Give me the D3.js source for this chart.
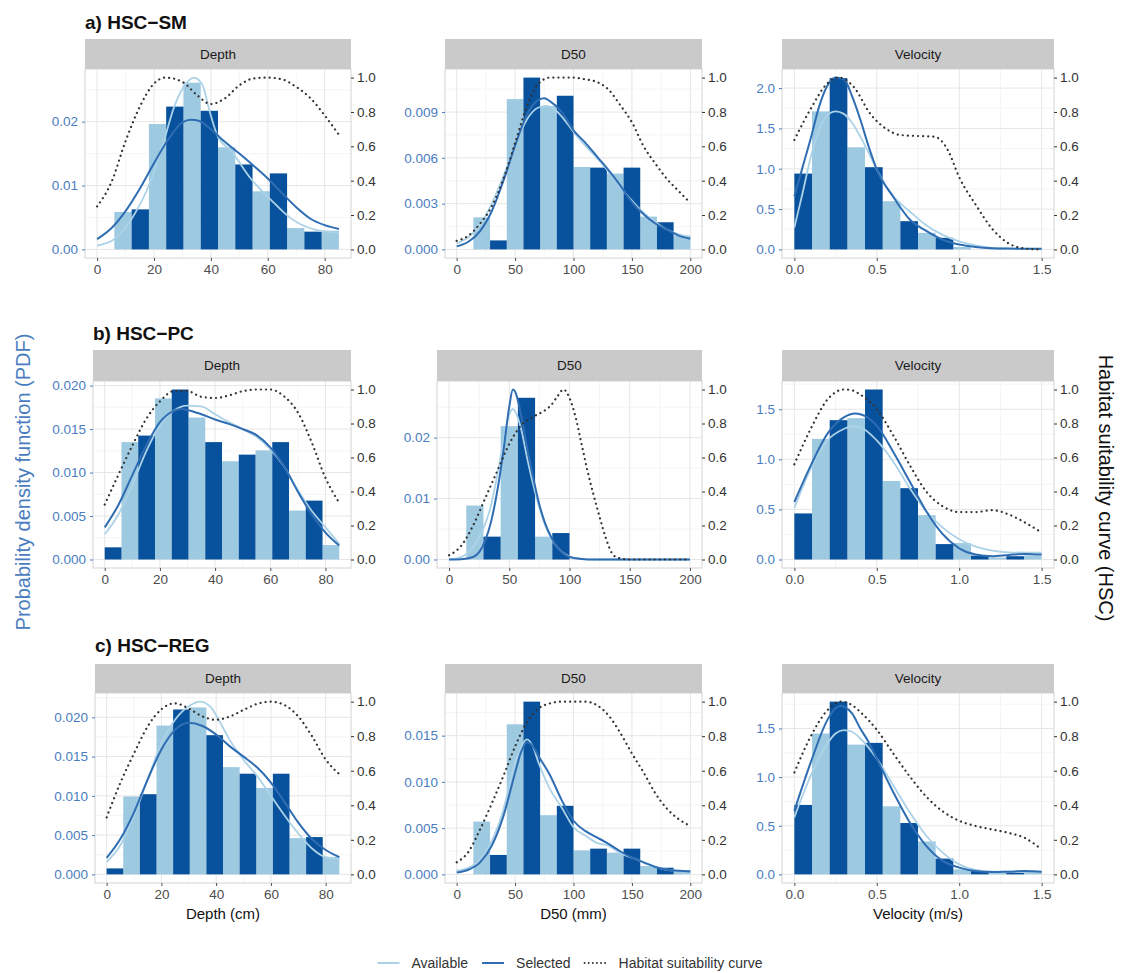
<!DOCTYPE html>
<html>
<head>
<meta charset="utf-8">
<script src="https://cdn.jsdelivr.net/npm/d3@7"></script>
<style>
body { margin: 0; background: #fff; }
text { font-family: "Liberation Sans", Arial, sans-serif; }
</style>
</head>
<body>
<div id="chart"></div>
<script>
// ---------- data ----------
var rowTitles = ["a) HSC\u2212SM", "b) HSC\u2212PC", "c) HSC\u2212REG"];
var varNames = ["Depth", "D50", "Velocity"];
var xTitles = ["Depth (cm)", "D50 (mm)", "Velocity (m/s)"];
var xRanges = [[0, 85], [0, 200], [0, 1.5]];
var xTickLabels = [["0", "20", "40", "60", "80"], ["0", "50", "100", "150", "200"], ["0.0", "0.5", "1.0", "1.5"]];
var hscTickLabels = ["0.0", "0.2", "0.4", "0.6", "0.8", "1.0"];
var legendLabels = ["Available", "Selected", "Habitat suitability curve"];

// left (PDF) tick labels per row / variable
var pdfTicksSM = [["0.00", "0.01", "0.02"], ["0.000", "0.003", "0.006", "0.009"], ["0.0", "0.5", "1.0", "1.5", "2.0"]];
var pdfTicksPC = [["0.000", "0.005", "0.010", "0.015", "0.020"], ["0.00", "0.01", "0.02"], ["0.0", "0.5", "1.0", "1.5"]];
var pdfTicksREG = [["0.000", "0.005", "0.010", "0.015", "0.020"], ["0.000", "0.005", "0.010", "0.015"], ["0.0", "0.5", "1.0", "1.5"]];

// histogram densities, 8 bins centred on 0 .. max (Available left half, Selected right half)
var smDepthAvail = [0, 0.00586, 0.01964, 0.0261, 0.0160, 0.0091, 0.00334, 0.00293];
var smDepthSel = [0, 0.00627, 0.02236, 0.0217, 0.0133, 0.0119, 0.00278, 0];
var smD50Avail = [0, 0.0021, 0.00985, 0.0094, 0.0054, 0.00497, 0.00215, 0.00091];
var smD50Sel = [0, 0.00059, 0.01126, 0.01007, 0.00536, 0.00536, 0.00178, 0];
var smVelAvail = [0, 1.711, 1.266, 0.598, 0.206, 0.03, 0.01, 0.005];
var smVelSel = [0.94, 2.124, 1.019, 0.35, 0.144, 0, 0, 0];

var pcDepthAvail = [0, 0.0135, 0.01853, 0.01633, 0.0113, 0.01255, 0.00563, 0.00166];
var pcDepthSel = [0.0014, 0.01425, 0.01955, 0.0135, 0.01206, 0.0135, 0.00677, 0];
var pcD50Avail = [0, 0.00885, 0.02188, 0.00375, 0, 0, 0, 0];
var pcD50Sel = [0, 0.00375, 0.02654, 0.00434, 0, 0, 0, 0];
var pcVelAvail = [0, 1.204, 1.411, 0.784, 0.443, 0.164, 0.02, 0.04];
var pcVelSel = [0.46, 1.391, 1.697, 0.712, 0.154, 0.039, 0.033, 0];

var regDepthAvail = [0, 0.00992, 0.01895, 0.02126, 0.01366, 0.011, 0.00462, 0.00223];
var regDepthSel = [0.00076, 0.01021, 0.021, 0.01773, 0.01282, 0.01282, 0.00475, 0];
var regD50Avail = [0, 0.00571, 0.01623, 0.0064, 0.0026, 0.00235, 0.0009, 0.00047];
var regD50Sel = [0, 0.0021, 0.01868, 0.00741, 0.00278, 0.00278, 0.00072, 0];
var regVelAvail = [0, 1.448, 1.334, 0.70, 0.338, 0.052, 0.017, 0.028];
var regVelSel = [0.714, 1.776, 1.352, 0.528, 0.162, 0.034, 0.017, 0];

// density curves [x, pdf]
var smDepthAvailPdf = [[0, 0.0006], [6, 0.0016], [12, 0.0047], [19, 0.0109], [23.5, 0.017], [27, 0.0222], [31, 0.0258], [34, 0.0269], [37, 0.0258], [39.5, 0.0217], [42.5, 0.0176], [47, 0.0155], [54, 0.0111], [61, 0.0078], [68, 0.0049], [76.5, 0.0031], [85, 0.0026]];
var smDepthSelPdf = [[0, 0.0016], [5, 0.0033], [10, 0.006], [15, 0.0095], [20, 0.0135], [25, 0.0172], [30, 0.0199], [33, 0.0203], [36, 0.0201], [40, 0.0188], [45, 0.0168], [50, 0.015], [55, 0.0131], [60, 0.0111], [65, 0.0088], [70, 0.0066], [75, 0.0048], [80, 0.0038], [85, 0.0032]];
var smD50AvailPdf = [[0, 0.0004], [10, 0.0008], [20, 0.0016], [30, 0.003], [40, 0.0048], [50, 0.0068], [60, 0.0085], [70, 0.0093], [77, 0.0094], [85, 0.0091], [90, 0.0087], [100, 0.0077], [110, 0.0068], [120, 0.006], [130, 0.0051], [140, 0.0041], [150, 0.0032], [160, 0.0024], [170, 0.0018], [180, 0.0013], [190, 0.001], [200, 0.0008]];
var smD50SelPdf = [[0, 0.0002], [10, 0.0005], [20, 0.0012], [30, 0.0025], [40, 0.0045], [50, 0.0068], [60, 0.0088], [70, 0.0098], [75, 0.0099], [80, 0.0097], [90, 0.009], [100, 0.0078], [110, 0.007], [120, 0.0061], [130, 0.0052], [140, 0.0042], [150, 0.0031], [160, 0.0023], [170, 0.0017], [180, 0.0013], [190, 0.0009], [200, 0.0007]];
var smVelAvailPdf = [[0, 0.27], [0.05, 0.7], [0.1, 1.15], [0.15, 1.48], [0.2, 1.66], [0.25, 1.71], [0.3, 1.68], [0.35, 1.57], [0.4, 1.4], [0.45, 1.2], [0.5, 0.99], [0.6, 0.66], [0.7, 0.47], [0.8, 0.3], [0.9, 0.18], [1.0, 0.1], [1.1, 0.05], [1.2, 0.02], [1.3, 0.01], [1.4, 0.005], [1.5, 0.005]];
var smVelSelPdf = [[0, 0.66], [0.05, 1.02], [0.1, 1.38], [0.15, 1.77], [0.2, 2.03], [0.25, 2.13], [0.3, 2.11], [0.35, 1.9], [0.4, 1.61], [0.45, 1.28], [0.5, 0.99], [0.6, 0.65], [0.7, 0.37], [0.8, 0.23], [0.9, 0.12], [1.0, 0.06], [1.1, 0.03], [1.2, 0.015], [1.3, 0.01], [1.4, 0.008], [1.5, 0.008]];

var pcDepthAvailPdf = [[0, 0.0029], [5, 0.0052], [10, 0.0086], [15, 0.0124], [20, 0.0154], [25, 0.0171], [30, 0.0177], [35, 0.0176], [40, 0.0167], [45, 0.0158], [50, 0.015], [55, 0.0141], [60, 0.0127], [65, 0.0107], [70, 0.008], [75, 0.0056], [80, 0.0037], [85, 0.0018]];
var pcDepthSelPdf = [[0, 0.0037], [5, 0.0063], [10, 0.0097], [15, 0.0131], [20, 0.0158], [25, 0.0171], [28, 0.0173], [30, 0.0172], [35, 0.0167], [40, 0.0161], [45, 0.0156], [50, 0.015], [55, 0.0143], [60, 0.0129], [65, 0.0107], [70, 0.0078], [75, 0.0052], [80, 0.0031], [85, 0.0016]];
var pcD50AvailPdf = [[0, 0], [10, 0.0004], [20, 0.002], [25, 0.0036], [30, 0.0058], [35, 0.009], [40, 0.0138], [45, 0.0192], [50, 0.0238], [53, 0.0247], [55, 0.0243], [60, 0.0213], [65, 0.0165], [70, 0.0122], [75, 0.0085], [80, 0.0055], [85, 0.0034], [90, 0.002], [100, 0.0005], [110, 0.0001], [120, 0], [200, 0]];
var pcD50SelPdf = [[0, 0], [10, 0.00005], [20, 0.0004], [25, 0.0012], [30, 0.0031], [35, 0.0063], [40, 0.0112], [45, 0.0176], [50, 0.0251], [53, 0.0279], [55, 0.0275], [60, 0.0235], [65, 0.0181], [70, 0.0133], [75, 0.009], [80, 0.0058], [85, 0.0036], [90, 0.002], [95, 0.001], [100, 0.0004], [110, 0.0001], [120, 0], [200, 0]];
var pcVelAvailPdf = [[0, 0.515], [0.1, 0.91], [0.2, 1.188], [0.3, 1.303], [0.35, 1.33], [0.4, 1.32], [0.5, 1.188], [0.6, 0.975], [0.7, 0.712], [0.8, 0.482], [0.9, 0.318], [1.0, 0.203], [1.1, 0.128], [1.2, 0.089], [1.3, 0.072], [1.4, 0.069], [1.5, 0.069]];
var pcVelSelPdf = [[0, 0.574], [0.1, 0.94], [0.2, 1.254], [0.3, 1.418], [0.37, 1.457], [0.4, 1.45], [0.5, 1.336], [0.6, 1.073], [0.7, 0.778], [0.8, 0.482], [0.9, 0.253], [1.0, 0.112], [1.1, 0.049], [1.2, 0.033], [1.3, 0.046], [1.4, 0.056], [1.5, 0.049]];

var regDepthAvailPdf = [[0, 0.0016], [5, 0.0037], [10, 0.0075], [15, 0.0121], [20, 0.0167], [25, 0.0197], [30, 0.0214], [34, 0.022], [38, 0.0213], [42, 0.019], [45, 0.0171], [50, 0.0146], [55, 0.0125], [60, 0.01], [65, 0.0075], [70, 0.0052], [75, 0.0033], [80, 0.0022], [85, 0.002]];
var regDepthSelPdf = [[0, 0.0021], [5, 0.0045], [10, 0.0079], [15, 0.0121], [20, 0.0159], [25, 0.0184], [30, 0.0193], [35, 0.0189], [40, 0.0178], [45, 0.0163], [50, 0.015], [55, 0.0136], [60, 0.0117], [65, 0.0092], [70, 0.0066], [75, 0.0045], [80, 0.0031], [85, 0.0022]];
var regD50AvailPdf = [[0, 0.0004], [10, 0.0007], [20, 0.0016], [30, 0.0036], [40, 0.007], [50, 0.0121], [55, 0.0137], [60, 0.0146], [65, 0.0139], [70, 0.0121], [80, 0.0092], [90, 0.0072], [100, 0.0051], [110, 0.0042], [120, 0.0034], [130, 0.0031], [140, 0.0023], [150, 0.0018], [160, 0.0013], [170, 0.0008], [180, 0.0005], [190, 0.0004], [200, 0.0003]];
var regD50SelPdf = [[0, 0.0002], [10, 0.0005], [20, 0.0013], [30, 0.0031], [40, 0.0063], [50, 0.011], [55, 0.0132], [60, 0.0143], [65, 0.0139], [70, 0.0128], [80, 0.0107], [90, 0.008], [100, 0.0058], [110, 0.0047], [120, 0.004], [130, 0.0033], [140, 0.0025], [150, 0.0018], [160, 0.0013], [170, 0.0008], [180, 0.0005], [190, 0.0004], [200, 0.0003]];
var regVelAvailPdf = [[0, 0.586], [0.1, 1.017], [0.2, 1.345], [0.25, 1.448], [0.3, 1.483], [0.35, 1.466], [0.4, 1.397], [0.5, 1.19], [0.6, 0.914], [0.7, 0.638], [0.8, 0.397], [0.9, 0.224], [1.0, 0.103], [1.1, 0.045], [1.2, 0.028], [1.3, 0.028], [1.4, 0.031], [1.5, 0.028]];
var regVelSelPdf = [[0, 0.655], [0.1, 1.155], [0.2, 1.586], [0.25, 1.707], [0.28, 1.734], [0.3, 1.724], [0.35, 1.655], [0.4, 1.5], [0.45, 1.362], [0.5, 1.19], [0.6, 0.845], [0.7, 0.534], [0.8, 0.293], [0.9, 0.138], [1.0, 0.069], [1.1, 0.034], [1.2, 0.024], [1.3, 0.028], [1.4, 0.034], [1.5, 0.028]];

// habitat suitability curves [x, hsc]
var smDepthHsc = [[0, 0.25], [5, 0.39], [10, 0.63], [15, 0.83], [20, 0.965], [24, 1.0], [30, 0.975], [35, 0.9], [40, 0.846], [45, 0.88], [50, 0.955], [55, 0.995], [60, 1.0], [65, 0.99], [70, 0.946], [75, 0.88], [80, 0.78], [85, 0.667]];
var smD50Hsc = [[0, 0.05], [10, 0.08], [20, 0.15], [30, 0.25], [40, 0.41], [50, 0.62], [60, 0.83], [70, 0.965], [80, 1.0], [90, 1.0], [100, 1.0], [110, 0.99], [120, 0.975], [130, 0.93], [140, 0.84], [150, 0.74], [160, 0.6], [170, 0.5], [180, 0.41], [190, 0.34], [200, 0.27]];
var smVelHsc = [[0, 0.637], [0.1, 0.82], [0.2, 0.966], [0.27, 1.0], [0.36, 0.946], [0.46, 0.79], [0.56, 0.7], [0.64, 0.666], [0.75, 0.66], [0.85, 0.656], [0.93, 0.58], [1.0, 0.42], [1.1, 0.26], [1.2, 0.12], [1.3, 0.035], [1.4, 0.005], [1.5, 0]];
var pcDepthHsc = [[0, 0.323], [5, 0.5], [10, 0.67], [15, 0.826], [20, 0.93], [25, 0.99], [30, 0.99], [35, 0.957], [40, 0.95], [45, 0.965], [50, 0.99], [55, 1.0], [60, 1.0], [65, 0.96], [70, 0.865], [75, 0.69], [80, 0.48], [85, 0.333]];
var pcD50Hsc = [[0, 0.025], [10, 0.08], [20, 0.2], [30, 0.36], [40, 0.52], [50, 0.68], [60, 0.79], [70, 0.84], [80, 0.88], [85, 0.91], [90, 0.96], [95, 1.0], [100, 0.95], [105, 0.84], [110, 0.68], [115, 0.52], [120, 0.38], [125, 0.25], [130, 0.13], [135, 0.04], [140, 0.01], [150, 0], [200, 0]];
var pcVelHsc = [[0, 0.56], [0.1, 0.77], [0.2, 0.94], [0.3, 1.0], [0.35, 0.995], [0.4, 0.97], [0.5, 0.884], [0.6, 0.73], [0.7, 0.555], [0.8, 0.4], [0.9, 0.313], [1.0, 0.279], [1.1, 0.279], [1.2, 0.29], [1.3, 0.265], [1.4, 0.217], [1.5, 0.159]];
var regDepthHsc = [[0, 0.33], [5, 0.53], [10, 0.7], [15, 0.857], [20, 0.956], [25, 0.99], [30, 0.96], [35, 0.914], [40, 0.895], [45, 0.914], [50, 0.952], [55, 0.987], [60, 1.0], [65, 0.98], [70, 0.914], [75, 0.8], [80, 0.665], [85, 0.58]];
var regD50Hsc = [[0, 0.07], [10, 0.13], [20, 0.26], [30, 0.41], [40, 0.57], [50, 0.74], [60, 0.88], [70, 0.96], [80, 0.99], [90, 1.0], [100, 1.0], [110, 1.0], [120, 0.98], [130, 0.92], [140, 0.82], [150, 0.7], [160, 0.59], [170, 0.47], [180, 0.38], [190, 0.32], [200, 0.28]];
var regVelHsc = [[0, 0.59], [0.1, 0.8], [0.2, 0.95], [0.28, 1.0], [0.35, 0.98], [0.4, 0.94], [0.5, 0.837], [0.6, 0.7], [0.7, 0.567], [0.8, 0.45], [0.9, 0.365], [1.0, 0.31], [1.1, 0.28], [1.2, 0.26], [1.3, 0.24], [1.4, 0.21], [1.5, 0.144]];

// ---------- layout ----------
var W = 1121, H = 973;
var rowBox = [
  { title: 29, strip: 39, top: 69, bottom: 258 },
  { title: 340, strip: 350, top: 381, bottom: 568 },
  { title: 652, strip: 664, top: 693, bottom: 883 }
];
var colBox = [
  [[85, 351], [445, 702], [782, 1054]],
  [[93, 351], [437, 702], [782, 1054]],
  [[95, 351], [445, 702], [782, 1054]]
];

var colAvail = "#9ecae1", colSel = "#08519c";
var colAvailLine = "#acd2e8", colSelLine = "#2f6db3";
var colPdfAxis = "#4a7dc0", colHsc = "#333333";

var panels = [
  [
    { avail: smDepthAvail, sel: smDepthSel, availPdf: smDepthAvailPdf, selPdf: smDepthSelPdf, hsc: smDepthHsc, ticks: pdfTicksSM[0] },
    { avail: smD50Avail, sel: smD50Sel, availPdf: smD50AvailPdf, selPdf: smD50SelPdf, hsc: smD50Hsc, ticks: pdfTicksSM[1] },
    { avail: smVelAvail, sel: smVelSel, availPdf: smVelAvailPdf, selPdf: smVelSelPdf, hsc: smVelHsc, ticks: pdfTicksSM[2] }
  ],
  [
    { avail: pcDepthAvail, sel: pcDepthSel, availPdf: pcDepthAvailPdf, selPdf: pcDepthSelPdf, hsc: pcDepthHsc, ticks: pdfTicksPC[0] },
    { avail: pcD50Avail, sel: pcD50Sel, availPdf: pcD50AvailPdf, selPdf: pcD50SelPdf, hsc: pcD50Hsc, ticks: pdfTicksPC[1] },
    { avail: pcVelAvail, sel: pcVelSel, availPdf: pcVelAvailPdf, selPdf: pcVelSelPdf, hsc: pcVelHsc, ticks: pdfTicksPC[2] }
  ],
  [
    { avail: regDepthAvail, sel: regDepthSel, availPdf: regDepthAvailPdf, selPdf: regDepthSelPdf, hsc: regDepthHsc, ticks: pdfTicksREG[0] },
    { avail: regD50Avail, sel: regD50Sel, availPdf: regD50AvailPdf, selPdf: regD50SelPdf, hsc: regD50Hsc, ticks: pdfTicksREG[1] },
    { avail: regVelAvail, sel: regVelSel, availPdf: regVelAvailPdf, selPdf: regVelSelPdf, hsc: regVelHsc, ticks: pdfTicksREG[2] }
  ]
];

var svg = d3.select("#chart").append("svg")
  .attr("width", W)
  .attr("height", H)
  .style("background", "#fff");

function minorOf(vals, dom) {
  var step = vals[1] - vals[0];
  var out = [vals[0] - step / 2].concat(vals.map(function (v) { return v + step / 2; }));
  return out.filter(function (v) { return v > dom[0] && v < dom[1]; });
}

function drawPanel(p, r, c) {
  var rb = rowBox[r], l = colBox[r][c][0], rt = colBox[r][c][1];
  var g = svg.append("g");
  var xr = xRanges[c], span = xr[1] - xr[0];
  var x = d3.scaleLinear().domain([xr[0] - 0.05 * span, xr[1] + 0.05 * span]).range([l, rt]);
  var M = d3.max([d3.max(p.avail), d3.max(p.sel),
    d3.max(p.availPdf, function (d) { return d[1]; }),
    d3.max(p.selPdf, function (d) { return d[1]; })]);
  var y = d3.scaleLinear().domain([-0.05 * M, 1.05 * M]).range([rb.bottom, rb.top]);
  var y2 = d3.scaleLinear().domain([-0.05, 1.05]).range([rb.bottom, rb.top]);

  var xTicks = xTickLabels[c].map(Number);
  var yTicks = p.ticks.map(Number);

  // background + grid
  g.append("rect").attr("x", l).attr("y", rb.top).attr("width", rt - l).attr("height", rb.bottom - rb.top)
    .attr("fill", "#fff");
  g.selectAll(".gxm").data(minorOf(xTicks, x.domain())).join("line")
    .attr("x1", function (d) { return x(d); }).attr("x2", function (d) { return x(d); })
    .attr("y1", rb.top).attr("y2", rb.bottom).attr("stroke", "#f2f2f2").attr("stroke-width", 0.8);
  g.selectAll(".gym").data(minorOf(yTicks, y.domain())).join("line")
    .attr("y1", function (d) { return y(d); }).attr("y2", function (d) { return y(d); })
    .attr("x1", l).attr("x2", rt).attr("stroke", "#f2f2f2").attr("stroke-width", 0.8);
  g.selectAll(".gx").data(xTicks).join("line")
    .attr("x1", function (d) { return x(d); }).attr("x2", function (d) { return x(d); })
    .attr("y1", rb.top).attr("y2", rb.bottom).attr("stroke", "#e6e6e6").attr("stroke-width", 1);
  g.selectAll(".gy").data(yTicks).join("line")
    .attr("y1", function (d) { return y(d); }).attr("y2", function (d) { return y(d); })
    .attr("x1", l).attr("x2", rt).attr("stroke", "#e6e6e6").attr("stroke-width", 1);

  // histogram bars (dodged)
  var w = span / 7;
  var bars = [];
  p.avail.forEach(function (v, k) { if (v > 0) bars.push({ x0: k * w - w / 2, x1: k * w, v: v, f: colAvail }); });
  p.sel.forEach(function (v, k) { if (v > 0) bars.push({ x0: k * w, x1: k * w + w / 2, v: v, f: colSel }); });
  g.selectAll(".bar").data(bars).join("rect")
    .attr("x", function (d) { return x(Math.max(d.x0, xr[0])); })
    .attr("width", function (d) { return x(Math.min(d.x1, xr[1])) - x(Math.max(d.x0, xr[0])); })
    .attr("y", function (d) { return y(d.v); })
    .attr("height", function (d) { return y(0) - y(d.v); })
    .attr("fill", function (d) { return d.f; });

  // density curves
  var line = d3.line().x(function (d) { return x(d[0]); }).y(function (d) { return y(d[1]); }).curve(d3.curveMonotoneX);
  g.append("path").attr("d", line(p.availPdf)).attr("fill", "none").attr("stroke", colAvailLine).attr("stroke-width", 1.8);
  g.append("path").attr("d", line(p.selPdf)).attr("fill", "none").attr("stroke", colSelLine).attr("stroke-width", 2);

  // habitat suitability curve
  var hline = d3.line().x(function (d) { return x(d[0]); }).y(function (d) { return y2(d[1]); }).curve(d3.curveMonotoneX);
  g.append("path").attr("d", hline(p.hsc)).attr("fill", "none").attr("stroke", colHsc)
    .attr("stroke-width", 2.2).attr("stroke-dasharray", "0.1,5").attr("stroke-linecap", "round");

  // border
  g.append("rect").attr("x", l).attr("y", rb.top).attr("width", rt - l).attr("height", rb.bottom - rb.top)
    .attr("fill", "none").attr("stroke", "#d4d4d4").attr("stroke-width", 1);

  // strip
  g.append("rect").attr("x", l).attr("y", rb.strip).attr("width", rt - l).attr("height", rb.top - rb.strip)
    .attr("fill", "#cacaca");
  g.append("text").attr("x", (l + rt) / 2).attr("y", (rb.strip + rb.top) / 2).attr("dy", "0.35em")
    .attr("text-anchor", "middle").attr("font-size", 13.5).attr("fill", "#1a1a1a").text(varNames[c]);

  // axes
  var ax = g.append("g").attr("transform", "translate(0," + rb.bottom + ")")
    .call(d3.axisBottom(x).tickValues(xTicks).tickFormat(function (d, i) { return xTickLabels[c][i]; }).tickSize(3).tickPadding(3));
  var ay = g.append("g").attr("transform", "translate(" + l + ",0)")
    .call(d3.axisLeft(y).tickValues(yTicks).tickFormat(function (d, i) { return p.ticks[i]; }).tickSize(3).tickPadding(4));
  var ay2 = g.append("g").attr("transform", "translate(" + rt + ",0)")
    .call(d3.axisRight(y2).tickValues(hscTickLabels.map(Number)).tickFormat(function (d, i) { return hscTickLabels[i]; }).tickSize(3).tickPadding(3));
  [ax, ay, ay2].forEach(function (a) {
    a.select(".domain").remove();
    a.selectAll("text").attr("font-size", 13.5).attr("font-family", '"Liberation Sans", Arial, sans-serif');
  });
  ax.selectAll("line").attr("stroke", "#4d4d4d");
  ax.selectAll("text").attr("fill", "#4d4d4d");
  ay.selectAll("line").attr("stroke", colPdfAxis);
  ay.selectAll("text").attr("fill", colPdfAxis);
  ay2.selectAll("line").attr("stroke", "#333");
  ay2.selectAll("text").attr("fill", "#333");

  if (c === 0) {
    svg.append("text").attr("x", l).attr("y", rb.title)
      .attr("font-size", 19).attr("font-weight", "bold").attr("fill", "#111").text(rowTitles[r]);
  }
  if (r === 2) {
    svg.append("text").attr("x", (l + rt) / 2).attr("y", rb.bottom + 36)
      .attr("text-anchor", "middle").attr("font-size", 15).attr("fill", "#111").text(xTitles[c]);
  }
}

panels.forEach(function (row, r) {
  row.forEach(function (p, c) { drawPanel(p, r, c); });
});

// axis titles
svg.append("text").attr("transform", "translate(23,482) rotate(-90)")
  .attr("text-anchor", "middle").attr("dy", "0.35em").attr("font-size", 20).attr("fill", colPdfAxis)
  .text("Probability density function (PDF)");
svg.append("text").attr("transform", "translate(1106,488) rotate(90)")
  .attr("text-anchor", "middle").attr("dy", "0.35em").attr("font-size", 20).attr("fill", "#111")
  .text("Habitat suitability curve (HSC)");

// legend
var legStyles = [
  { stroke: colAvailLine, dash: null, width: 2 },
  { stroke: colSelLine, dash: null, width: 2 },
  { stroke: colHsc, dash: "0.1,4", width: 1.8 }
];
var leg = svg.append("g");
var lx = 0;
legendLabels.forEach(function (lab, i) {
  var it = leg.append("g").attr("transform", "translate(" + lx + ",0)");
  var ln = it.append("line").attr("x1", 0).attr("x2", 22).attr("y1", 0).attr("y2", 0)
    .attr("stroke", legStyles[i].stroke).attr("stroke-width", legStyles[i].width);
  if (legStyles[i].dash) ln.attr("stroke-dasharray", legStyles[i].dash).attr("stroke-linecap", "round");
  var t = it.append("text").attr("x", 34).attr("dy", "0.35em").attr("font-size", 14).attr("fill", "#333").text(lab);
  lx += 34 + t.node().getComputedTextLength() + 14;
});
leg.attr("transform", "translate(" + (570 - (lx - 14) / 2) + ",963)");
</script>
</body>
</html>
